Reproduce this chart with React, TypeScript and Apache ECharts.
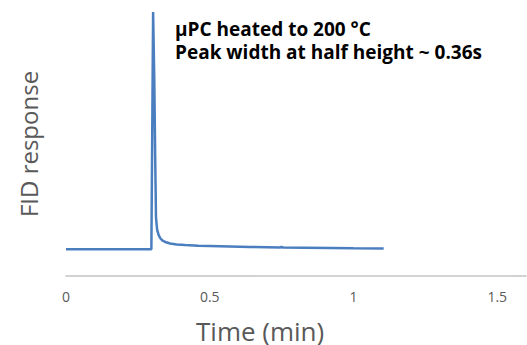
import React, { useEffect, useRef } from "react";
import * as echarts from "echarts";

const times = [0, 0.29, 0.297, 0.303, 0.307, 0.31, 0.313, 0.317, 0.322, 0.328, 0.336, 0.345, 0.362, 0.385, 0.414, 0.46, 0.501, 0.57, 0.64, 0.745, 0.75, 0.755, 0.83, 0.919, 1.0, 1.105];
const response = [10, 10, 10, 100, 75, 47, 22, 17.5, 15.5, 14.2, 13.3, 12.8, 12.2, 11.8, 11.6, 11.4, 11.3, 11.1, 10.9, 10.7, 10.9, 10.7, 10.6, 10.5, 10.4, 10.3];
const xTicks = [0, 0.5, 1, 1.5];
const annotation = ["µPC heated to 200 °C", "Peak width at half height ~ 0.36s"];
const xTitle = "Time (min)";
const yTitle = "FID response";

export default function App() {
  const ref = useRef<HTMLDivElement>(null);
  useEffect(() => {
    const chart = echarts.init(ref.current!, null, { renderer: "svg" });
    const data = times.map((t, i) => [t, response[i]]);
    chart.setOption({
      animation: false,
      backgroundColor: "#ffffff",
      grid: { left: 66, right: 1, top: 12, bottom: 69.3 },
      xAxis: {
        type: "value",
        min: 0,
        max: 1.6,
        interval: 0.5,
        splitLine: { show: false },
        axisTick: { show: false },
        axisLine: { show: true, lineStyle: { color: "#c4c4c4", width: 1.5 } },
        axisLabel: {
          color: "#5a5a5a",
          fontSize: 14,
          fontFamily: "Open Sans",
          margin: 14,
          showMaxLabel: false,
          formatter: (v: number) => (xTicks.includes(v) ? String(v) : ""),
        },
      },
      yAxis: {
        type: "value",
        min: 0,
        max: 100,
        show: false,
      },
      graphic: [
        {
          type: "text",
          x: 196,
          y: 331,
          style: { text: xTitle, fill: "#595959", font: "26px 'Open Sans'", verticalAlign: "middle", lineHeight: 24 },
        },
        {
          type: "text",
          x: 28,
          y: 144,
          rotation: Math.PI / 2,
          style: { text: yTitle, fill: "#595959", font: "24px 'Open Sans'", align: "center", verticalAlign: "middle" },
        },
        {
          type: "text",
          x: 175,
          y: 29,
          style: { text: annotation[0], fill: "#000000", font: "bold 19px 'Open Sans'", verticalAlign: "middle", lineHeight: 20 },
        },
        {
          type: "text",
          x: 175,
          y: 52,
          style: { text: annotation[1], fill: "#000000", font: "bold 19px 'Open Sans'", verticalAlign: "middle", lineHeight: 20 },
        },
      ],
      series: [
        {
          type: "line",
          data,
          showSymbol: false,
          smooth: false,
          lineStyle: { color: "#4a7ebf", width: 2.5 },
        },
      ],
    });
    return () => chart.dispose();
  }, []);
  return <div ref={ref} style={{ position: "fixed", left: 0, top: 0, width: 527, height: 345 }} />;
}
